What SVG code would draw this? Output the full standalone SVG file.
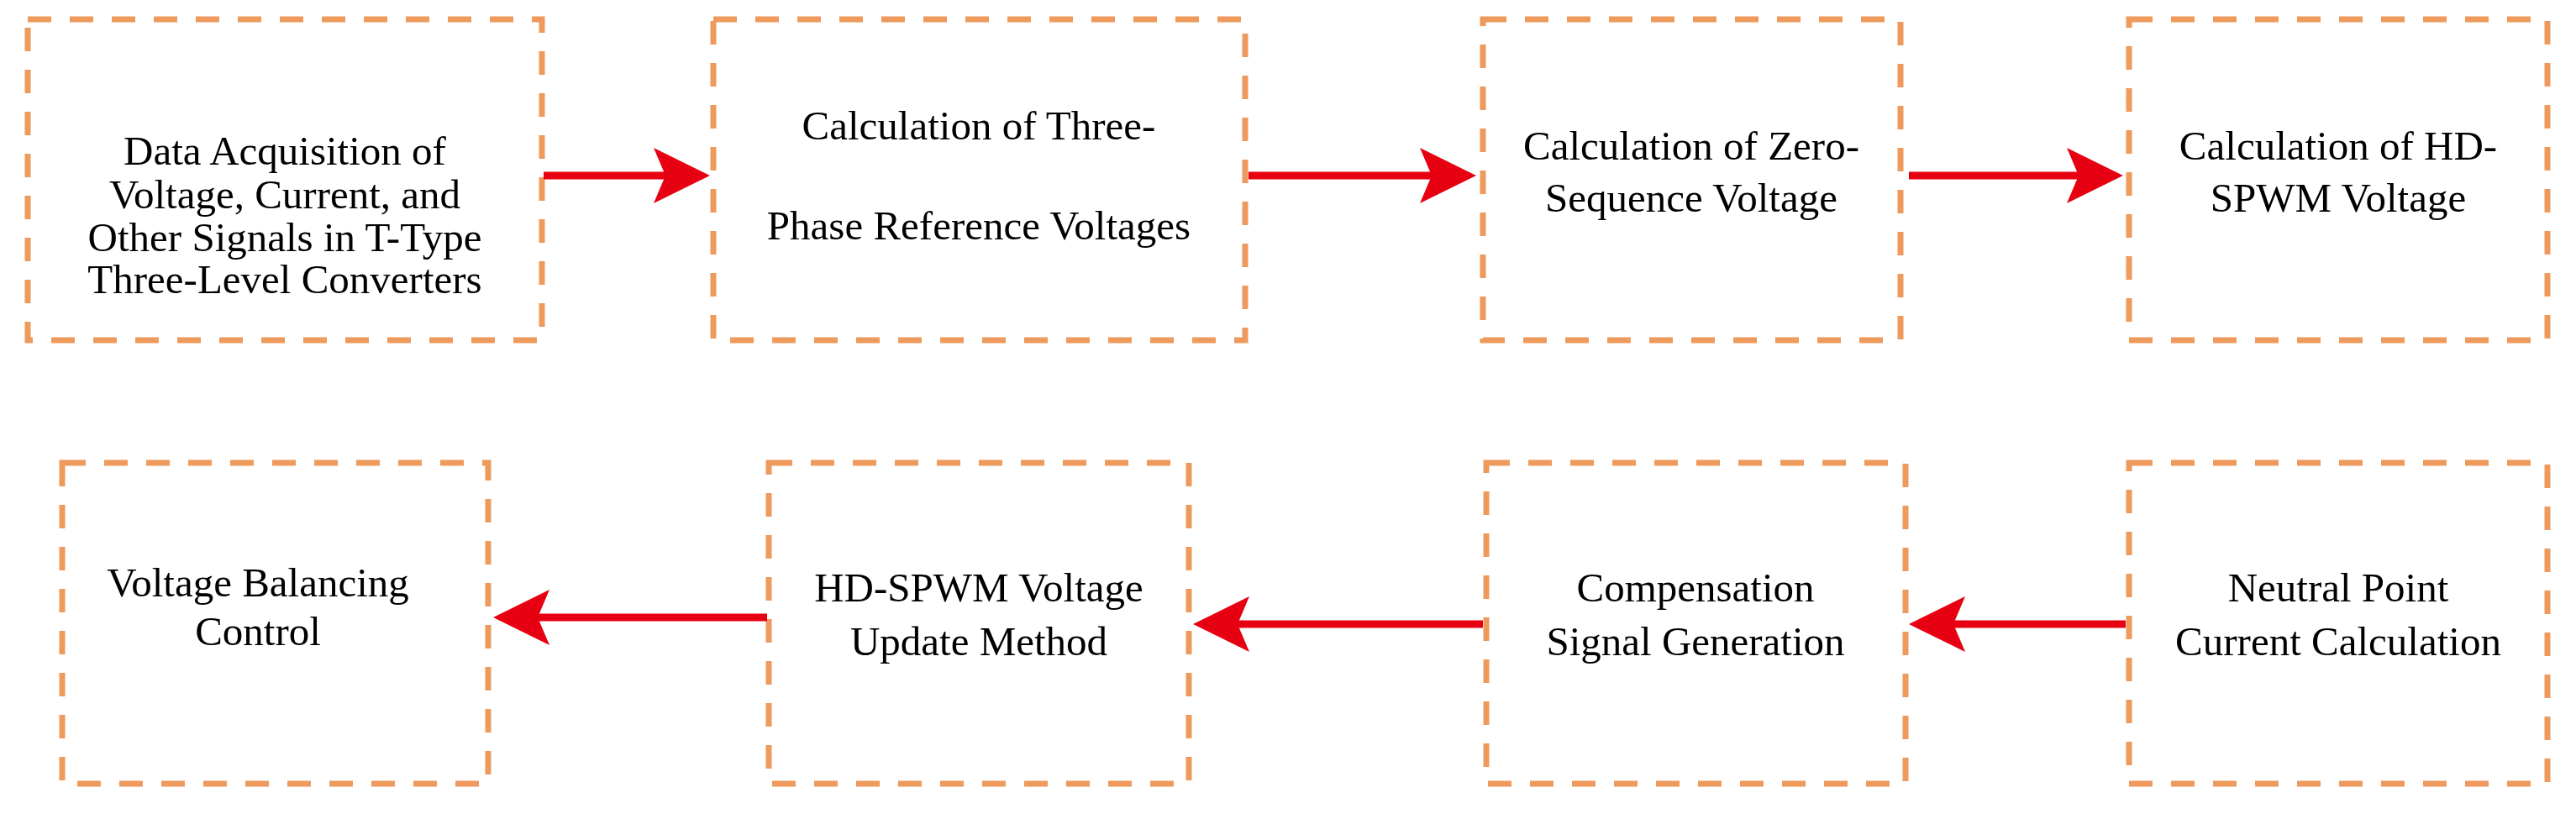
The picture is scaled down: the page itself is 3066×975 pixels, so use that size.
<svg xmlns="http://www.w3.org/2000/svg" width="3066" height="975" viewBox="0 0 3066 975">
<style>
.b{fill:none;stroke:#ED9A5C;stroke-width:7;stroke-dasharray:28 22}
.t{font-family:"Liberation Serif","Times New Roman","DejaVu Serif",serif;font-size:49px;text-anchor:middle;fill:#000}
.c{stroke:#E60012;stroke-width:9;fill:none}
.h{fill:#E60012}
</style>
<rect width="3066" height="975" fill="#fff"/>
<g id="n1"><rect class="b" x="33" y="23" width="612" height="382"/><text class="t"><tspan x="339" y="196">Data Acquisition of</tspan><tspan x="339" y="248">Voltage, Current, and</tspan><tspan x="339" y="299">Other Signals in T-Type</tspan><tspan x="339" y="349">Three-Level Converters</tspan></text></g>
<g id="n2"><rect class="b" x="849" y="23" width="633" height="382"/><text class="t"><tspan x="1165" y="166">Calculation of Three-</tspan><tspan x="1165" y="285">Phase Reference Voltages</tspan></text></g>
<g id="n3"><rect class="b" x="1765" y="23" width="497" height="382"/><text class="t"><tspan x="2013" y="190">Calculation of Zero-</tspan><tspan x="2013" y="252">Sequence Voltage</tspan></text></g>
<g id="n4"><rect class="b" x="2534" y="23" width="498" height="382"/><text class="t"><tspan x="2783" y="190">Calculation of HD-</tspan><tspan x="2783" y="252">SPWM Voltage</tspan></text></g>
<g id="n5"><rect class="b" x="74" y="551" width="507" height="382"/><text class="t"><tspan x="307" y="710">Voltage Balancing</tspan><tspan x="307" y="768">Control</tspan></text></g>
<g id="n6"><rect class="b" x="915" y="551" width="500" height="382"/><text class="t"><tspan x="1165" y="716">HD-SPWM Voltage</tspan><tspan x="1165" y="780">Update Method</tspan></text></g>
<g id="n7"><rect class="b" x="1769" y="551" width="499" height="382"/><text class="t"><tspan x="2018" y="716">Compensation</tspan><tspan x="2018" y="780">Signal Generation</tspan></text></g>
<g id="n8"><rect class="b" x="2534" y="551" width="498" height="382"/><text class="t"><tspan x="2783" y="716">Neutral Point</tspan><tspan x="2783" y="780">Current Calculation</tspan></text></g>
<g id="connectors">
<path class="c" d="M647 209H800"/><path class="h" d="M845 209L778 176L792 209L778 242Z"/>
<path class="c" d="M1486 209H1712"/><path class="h" d="M1757 209L1690 176L1704 209L1690 242Z"/>
<path class="c" d="M2272 209H2482"/><path class="h" d="M2527 209L2460 176L2474 209L2460 242Z"/>
<path class="c" d="M2530 743H2317"/><path class="h" d="M2272 743L2339 710L2325 743L2339 776Z"/>
<path class="c" d="M1765 743H1465"/><path class="h" d="M1420 743L1487 710L1473 743L1487 776Z"/>
<path class="c" d="M913 735H632"/><path class="h" d="M587 735L654 702L640 735L654 768Z"/>
</g>
</svg>
